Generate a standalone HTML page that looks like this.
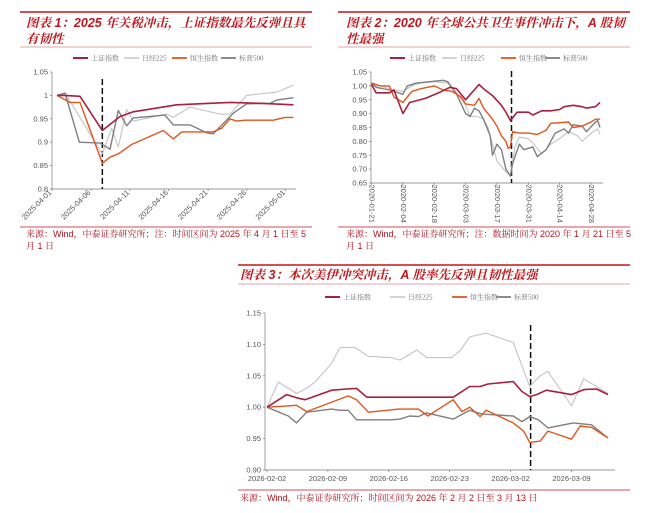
<!DOCTYPE html>
<html><head><meta charset="utf-8">
<style>
body{margin:0;background:#fff;width:650px;height:513px;overflow:hidden;font-family:"Liberation Sans","Noto Sans CJK SC",sans-serif}
svg{position:absolute;left:0;top:0}
.t{font-family:"Liberation Sans","Noto Serif CJK SC","Noto Sans CJK SC",sans-serif;font-weight:bold;font-style:italic;fill:#c0161c;font-size:12.5px}
.f{font-family:"Liberation Sans","Noto Serif CJK SC",sans-serif;fill:#b0141c;font-size:9px}
.tk{font-size:7.5px;fill:#555}
.lg{font-size:7px;fill:#777;font-family:"Liberation Serif","Noto Serif CJK SC",serif}
</style></head><body>
<svg id="s" width="650" height="513">
<line x1="20" y1="12" x2="312" y2="12" stroke="#c0161c" stroke-width="1.5"/>
<text class="t" x="26" y="27">图表 1：2025 年关税冲击，上证指数最先反弹且具</text>
<text class="t" x="26" y="43">有韧性</text>
<line x1="20" y1="47" x2="312" y2="47" stroke="#d88" stroke-width="0.8"/>
<line x1="20" y1="227" x2="312" y2="227" stroke="#c0161c" stroke-width="0.8"/>
<text class="f" x="26" y="237">来源：Wind，中泰证券研究所；注：时间区间为 2025 年 4 月 1 日至 5</text>
<text class="f" x="26" y="249">月 1 日</text>
<line x1="338" y1="12" x2="630" y2="12" stroke="#c0161c" stroke-width="1.5"/>
<text class="t" x="346" y="27">图表 2：2020 年全球公共卫生事件冲击下，A 股韧</text>
<text class="t" x="346" y="43">性最强</text>
<line x1="338" y1="47" x2="630" y2="47" stroke="#d88" stroke-width="0.8"/>
<line x1="338" y1="227" x2="630" y2="227" stroke="#c0161c" stroke-width="0.8"/>
<text class="f" x="346" y="237">来源：Wind，中泰证券研究所；注：数据时间为 2020 年 1 月 21 日至 5</text>
<text class="f" x="346" y="249">月 1 日</text>
<line x1="238" y1="265" x2="630" y2="265" stroke="#c0161c" stroke-width="1.5"/>
<text class="t" x="240" y="279">图表 3：本次美伊冲突冲击，A 股率先反弹且韧性最强</text>
<line x1="238" y1="284" x2="630" y2="284" stroke="#d88" stroke-width="0.8"/>
<line x1="238" y1="490" x2="630" y2="490" stroke="#c0161c" stroke-width="0.8"/>
<text class="f" x="240" y="501">来源：Wind，中泰证券研究所；时间区间为 2026 年 2 月 2 日至 3 月 13 日</text>
</svg>
<script>
// ---------- Chart 1 data (day offset from 2025-04-01) ----------
const c1SH_d=[0,1.03,2.97,5.85,8.13,9.85,15.44,22.32,26.62,30.5];
const c1SH_v=[1.0,1.0,0.998,0.925,0.955,0.965,0.98,0.985,0.983,0.98];
const c1NK_d=[0,1.03,5.85,7.05,7.91,8.99,9.85,14.15,15.01,17.16,21.03,22.32,24.47,28.34,30.5];
const c1NK_v=[1.0,1.005,0.875,0.93,0.89,0.97,0.945,0.96,0.953,0.975,0.96,0.96,1.0,1.007,1.022];
const c1HS_d=[0,1.68,2.97,5.85,6.84,7.91,9.63,13.72,15.01,16.09,20.17,21.25,22.32,23.18,24.26,27.91,29.42,30.5];
const c1HS_v=[1.0,0.985,0.985,0.855,0.868,0.875,0.895,0.925,0.907,0.922,0.922,0.93,0.95,0.945,0.947,0.947,0.953,0.953];
const c1SP_d=[0,1.03,2.88,5.55,6.84,7.91,8.99,9.85,13.94,15.01,17.16,19.31,20.17,22.75,24.47,27.48,28.34,30.5];
const c1SP_v=[1.0,1.005,0.9,0.898,0.885,0.968,0.935,0.952,0.958,0.937,0.937,0.92,0.918,0.962,0.982,0.983,0.99,0.995];
const c1Ticks=[1.05,1,0.95,0.9,0.85,0.8];
const c1TickLbl=["1.05","1","0.95","0.9","0.85","0.8"];
const c1Dates=["2025-04-01","2025-04-06","2025-04-11","2025-04-16","2025-04-21","2025-04-26","2025-05-01"];
const c1DateDay=[-0.65,4.4,9.4,14.4,19.5,24.5,29.5];
const c1Shock=5.85;
// ---------- Chart 2 data (day offset from 2020-01-21) ----------
const c2SH_d=[0,2,8,10,14,17,24,30,35,38,42,48,50,54,58,60,62,65,70,72,76,80,84,86,90,94,96,100,102];
const c2SH_v=[1.005,0.975,0.975,0.985,0.90,0.94,0.955,0.975,0.995,0.99,0.95,1.005,0.99,0.965,0.93,0.905,0.875,0.905,0.905,0.895,0.91,0.91,0.915,0.925,0.93,0.925,0.92,0.925,0.94];
const c2NK_d=[0,4,8,14,18,22,28,34,38,42,44,47,50,52,56,60,62,64,66,70,72,76,80,84,88,92,94,98,101,102];
const c2NK_v=[1.0,1.0,0.99,0.98,1.0,1.01,1.015,1.01,0.975,0.93,0.89,0.89,0.88,0.85,0.73,0.69,0.68,0.78,0.815,0.81,0.795,0.755,0.79,0.81,0.835,0.82,0.80,0.83,0.845,0.825];
const c2HS_d=[0,4,8,10,14,18,22,28,32,36,40,42,46,48,50,54,56,58,60,61,62,63,66,70,74,78,80,88,90,94,98,100,102];
const c2HS_v=[1.01,1.0,1.0,0.96,0.94,0.98,0.99,1.0,0.985,0.98,0.96,0.935,0.93,0.955,0.92,0.88,0.855,0.82,0.80,0.775,0.78,0.835,0.83,0.83,0.825,0.84,0.865,0.87,0.85,0.855,0.87,0.88,0.88];
const c2SP_d=[0,2,8,14,16,20,26,32,34,38,42,44,46,48,50,53,54,56,58,60,62,63,66,68,72,74,78,82,86,88,90,94,96,100,101,102];
const c2SP_v=[1.01,0.995,0.985,0.97,1.0,1.01,1.015,1.02,1.015,0.97,0.9,0.89,0.92,0.91,0.88,0.82,0.75,0.79,0.77,0.70,0.675,0.72,0.79,0.77,0.78,0.745,0.77,0.83,0.845,0.83,0.86,0.855,0.835,0.87,0.875,0.85];
const c2Ticks=[1.05,1.0,0.95,0.9,0.85,0.8,0.75,0.7,0.65];
const c2TickLbl=["1.05","1.00","0.95","0.90","0.85","0.80","0.75","0.70","0.65"];
const c2Dates=["2020-01-21","2020-02-04","2020-02-18","2020-03-03","2020-03-17","2020-03-31","2020-04-14","2020-04-28"];
const c2DateDay=[0,14,28,42,56,70,84,98];
const c2Shock=62.5;
// ---------- Chart 3 data (day offset from 2026-02-02) ----------
const c3SH_d=[0,2.26,3.4,4.37,7.43,9.16,10.3,11.46,14.3,21.4,23.3,24.5,25.4,28.3,29.3,30.2,31,32.1,35,36.4,37.9,39.2];
const c3SH_v=[1.0,1.02,1.015,1.012,1.027,1.029,1.03,1.016,1.016,1.016,1.033,1.033,1.037,1.041,1.025,1.017,1.02,1.027,1.02,1.028,1.029,1.02];
const c3NK_d=[0,1.3,3.4,4.56,5.5,7.43,8.39,10.1,11.65,14.3,15.3,17.2,18.35,21.2,22.2,23.3,25.2,28.3,30.2,31.4,32.3,35,36.4,39.2];
const c3NK_v=[1.0,1.04,1.022,1.03,1.04,1.07,1.095,1.095,1.081,1.079,1.075,1.091,1.079,1.079,1.09,1.112,1.118,1.103,1.033,1.05,1.057,1.002,1.045,1.022];
const c3HS_d=[0,3.4,4.56,9.35,10.3,11.65,15.1,17.4,18.5,21.4,22.4,23.3,24.5,25.2,28.3,29.5,30.2,31.4,32.3,35,36,37.3,39.2];
const c3HS_v=[1.0,1.003,0.993,1.018,1.012,0.992,0.997,0.997,0.986,1.012,0.993,1.0,0.985,0.995,0.975,0.962,0.944,0.946,0.962,0.949,0.97,0.968,0.951];
const c3SP_d=[0,2.45,3.4,4.56,7.43,8.39,9.35,10.3,14.3,15.3,16.4,17.4,18.35,21.4,23.3,24.7,28.3,29.3,30.2,31.2,32.3,35.2,37.3,39.2];
const c3SP_v=[1.0,0.986,0.975,0.992,0.997,0.995,0.995,0.98,0.98,0.981,0.986,0.985,0.991,0.981,0.995,0.989,0.986,0.977,0.985,0.98,0.967,0.975,0.972,0.951];
const c3Ticks=[1.15,1.10,1.05,1.00,0.95,0.90];
const c3TickLbl=["1.15","1.10","1.05","1.00","0.95","0.90"];
const c3Dates=["2026-02-02","2026-02-09","2026-02-16","2026-02-23","2026-03-02","2026-03-09"];
const c3DateDay=[0,7,14,21,28,35];
const c3Shock=30.3;
const legendNames=["上证指数","日经225","恒生指数","标普500"];

const NS="http://www.w3.org/2000/svg";
const svg=document.getElementById('s');
const COL=["#a8203f","#c4c4c4","#e0561e","#7f7f7f"];
const WID=[1.6,1.1,1.4,1.4];
function mk(t,a,p){const e=document.createElementNS(NS,t);for(const k in a)e.setAttribute(k,a[k]);(p||svg).appendChild(e);return e;}

function chart(cfg){
  const g=mk('g',{});
  
  
  const xs=d=>cfg.x0+d*cfg.dx;
  const ys=v=>cfg.yTop+(cfg.vTop-v)/(cfg.vTop-cfg.vBot)*(cfg.yBot-cfg.yTop);
  const ya=mk('line',{x1:cfg.ax,y1:cfg.yTop,x2:cfg.ax,y2:cfg.yBot,stroke:'#777','stroke-width':0.7},g);
  
  
  const xa=mk('line',{x1:cfg.ax,y1:cfg.yBot,x2:cfg.xEnd,y2:cfg.yBot,stroke:'#777','stroke-width':0.7},g);
  
  
  cfg.ticks.forEach((v,i)=>{
    const y=ys(v);
    mk('line',{x1:cfg.ax-2,y1:y,x2:cfg.ax,y2:y,stroke:'#777','stroke-width':0.7},g);
    const t=mk('text',{x:cfg.ax-4,y:y+2.5,'text-anchor':'end',class:'tk'},g);
    
    
    t.textContent=cfg.tickLbl[i];
  });
  cfg.dates.forEach((s,i)=>{
    const x=xs(cfg.dateDay[i]);
    mk('line',{x1:x,y1:cfg.yBot,x2:x,y2:cfg.yBot+2,stroke:'#777','stroke-width':0.7},g);
    let t;
    if(cfg.rot===0){t=mk('text',{x:x,y:cfg.yBot+11,'text-anchor':'middle',class:'tk'},g);}
    else {const yy=cfg.yBot+4;t=mk('text',{x:x,y:yy,'text-anchor':'end',class:'tk',transform:`rotate(${cfg.rot} ${x} ${yy})`},g);
      if(cfg.rot===-90)t.setAttribute('transform',`rotate(90 ${x} ${yy})`),t.setAttribute('text-anchor','start'),t.setAttribute('y',yy+2),t.setAttribute('x',x-2.5);}
    
    
    t.textContent=s;
  });
  const dl=mk('line',{x1:xs(cfg.shock),y1:cfg.dashTop,x2:xs(cfg.shock),y2:cfg.yBot,stroke:'#111','stroke-width':1.5,'stroke-dasharray':'6,3'},g);
  
  
  const order=[1,3,2,0];
  order.forEach(k=>{
    const [dd,vv]=cfg.series[k];
    const pts=dd.map((d,i)=>xs(d).toFixed(1)+','+ys(vv[i]).toFixed(1)).join(' ');
    const p=mk('polyline',{points:pts,fill:'none',stroke:COL[k],'stroke-width':WID[k],'stroke-linejoin':'round'},g);
    
    
  });
  cfg.leg.forEach((lx,k)=>{
    const l=mk('line',{x1:lx,y1:cfg.legY,x2:lx+15,y2:cfg.legY,stroke:COL[k],'stroke-width':WID[k]+0.4},g);
    
    
    const t=mk('text',{x:lx+18,y:cfg.legY+2.5,class:'lg'},g);
    
    
    t.textContent=legendNames[k];
  });
}
chart({id:'c1',x0:57,dx:7.75,ax:52,xEnd:296,yTop:72,yBot:189,vTop:1.05,vBot:0.8,ticks:c1Ticks,tickLbl:c1TickLbl,dates:c1Dates,dateDay:c1DateDay,rot:-45,shock:c1Shock,dashTop:79,
  series:[[c1SH_d,c1SH_v],[c1NK_d,c1NK_v],[c1HS_d,c1HS_v],[c1SP_d,c1SP_v]],leg:[73,124,172,221],legY:58});
chart({id:'c2',x0:371.5,dx:2.24,ax:371,xEnd:603,yTop:72,yBot:183,vTop:1.05,vBot:0.65,ticks:c2Ticks,tickLbl:c2TickLbl,dates:c2Dates,dateDay:c2DateDay,rot:-90,shock:c2Shock,dashTop:71,
  series:[[c2SH_d,c2SH_v],[c2NK_d,c2NK_v],[c2HS_d,c2HS_v],[c2SP_d,c2SP_v]],leg:[390,442,501,545],legY:58});
chart({id:'c3',x0:267,dx:8.7,ax:265,xEnd:615,yTop:313,yBot:470,vTop:1.15,vBot:0.90,ticks:c3Ticks,tickLbl:c3TickLbl,dates:c3Dates,dateDay:c3DateDay,rot:0,shock:c3Shock,dashTop:325,
  series:[[c3SH_d,c3SH_v],[c3NK_d,c3NK_v],[c3HS_d,c3HS_v],[c3SP_d,c3SP_v]],leg:[325,390,452,496],legY:297});
</script>
</body></html>
